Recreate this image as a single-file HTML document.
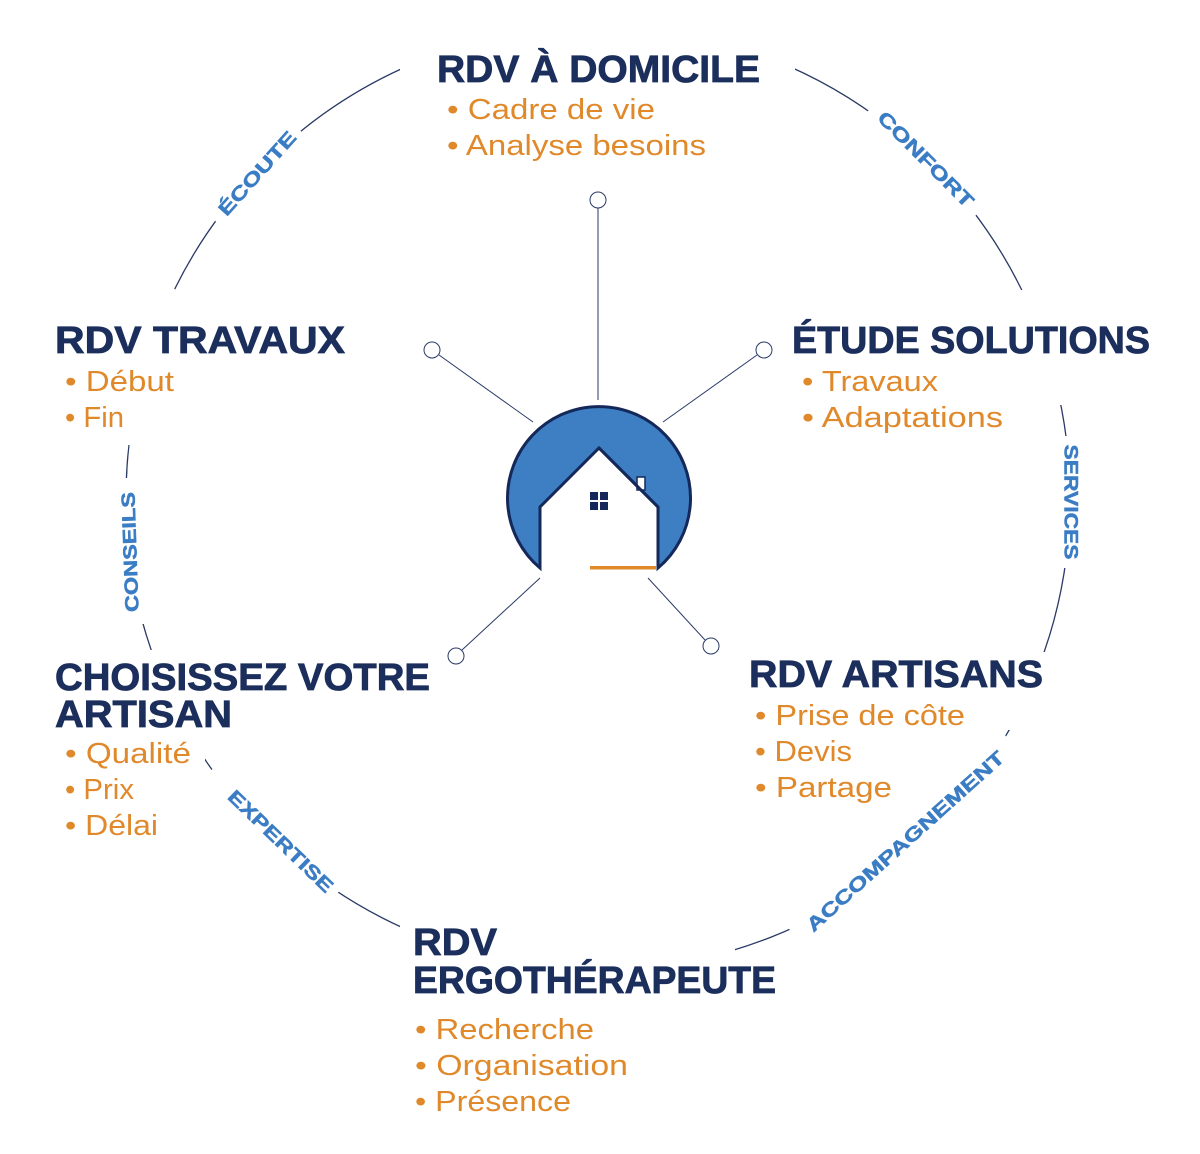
<!DOCTYPE html>
<html><head><meta charset="utf-8"><style>
html,body{margin:0;padding:0;background:#fff;}
svg{display:block}
.t{font-family:"Liberation Sans",sans-serif;font-weight:bold;fill:#1b2e5c;font-size:38px;stroke:#1b2e5c;stroke-width:0.8px}
.b{font-family:"Liberation Sans",sans-serif;fill:#e0892a;font-size:29px}
.l{font-family:"Liberation Sans",sans-serif;font-weight:bold;fill:#3b7dc4;font-size:19px;stroke:#3b7dc4;stroke-width:0.5px}
</style></head><body>
<svg width="1200" height="1154" viewBox="0 0 1200 1154" xmlns="http://www.w3.org/2000/svg">
<circle cx="598" cy="498" r="472" fill="none" stroke="#2a3a66" stroke-width="1.3"/>
<g fill="#fff">
<rect x="400" y="20" width="395" height="80"/>
<rect x="990" y="290" width="100" height="115"/>
<rect x="990" y="652" width="100" height="78"/>
<rect x="400" y="915" width="335" height="90"/>
<rect x="95" y="650" width="110" height="112"/>
<rect x="95" y="289" width="80" height="156"/>
<rect x="-62" y="-22" width="124" height="44" transform="translate(258,176) rotate(-48)"/>
<rect x="-75" y="-22" width="150" height="44" transform="translate(925,160) rotate(45)"/>
<rect x="-66" y="-25" width="132" height="50" transform="translate(1070,502) rotate(90)"/>
<rect x="-145" y="-24" width="290" height="48" transform="translate(906,842) rotate(-42)"/>
<rect x="-88" y="-24" width="176" height="48" transform="translate(273,833) rotate(45)"/>
<rect x="-73" y="-24" width="146" height="48" transform="translate(133,551) rotate(-90)"/>
</g>
<g stroke="#2a3a66" stroke-width="1" fill="#fff">
<line x1="598" y1="208" x2="598" y2="400"/>
<line x1="439" y1="355" x2="533" y2="422"/>
<line x1="757" y1="355" x2="663" y2="422"/>
<line x1="462" y1="650" x2="540" y2="578"/>
<line x1="705" y1="640" x2="648" y2="578"/>
<circle cx="598" cy="200" r="8"/>
<circle cx="432" cy="350" r="8"/>
<circle cx="764" cy="350" r="8"/>
<circle cx="456" cy="656" r="8"/>
<circle cx="711" cy="646" r="8"/>
</g>
<path d="M540,568 A91.5,91.5 0 1 1 658,568 L658,507 L599,448 L540,507 Z" fill="#3d7fc2" stroke="#14285a" stroke-width="3" stroke-linejoin="miter"/>
<rect x="637" y="477" width="8" height="13" fill="#fff" stroke="#14285a" stroke-width="1.5"/>
<path d="M599,448 L658,507" stroke="#14285a" stroke-width="3" fill="none"/>
<g fill="#14285a"><rect x="590" y="492" width="8" height="8"/><rect x="600" y="492" width="8" height="8"/><rect x="590" y="502" width="8" height="8"/><rect x="600" y="502" width="8" height="8"/></g>
<rect x="590" y="566" width="66" height="3.5" fill="#e0892a"/>

<text class="t" x="437" y="82" textLength="323" lengthAdjust="spacingAndGlyphs">RDV À DOMICILE</text>
<text class="b" x="447" y="119" textLength="208" lengthAdjust="spacingAndGlyphs">• Cadre de vie</text>
<text class="b" x="447" y="155" textLength="259" lengthAdjust="spacingAndGlyphs">• Analyse besoins</text>

<text class="t" x="792" y="353" textLength="358" lengthAdjust="spacingAndGlyphs">ÉTUDE SOLUTIONS</text>
<text class="b" x="802" y="391" textLength="136" lengthAdjust="spacingAndGlyphs">• Travaux</text>
<text class="b" x="802" y="427" textLength="201" lengthAdjust="spacingAndGlyphs">• Adaptations</text>

<text class="t" x="55" y="353" textLength="290" lengthAdjust="spacingAndGlyphs">RDV TRAVAUX</text>
<text class="b" x="65" y="391" textLength="109" lengthAdjust="spacingAndGlyphs">• Début</text>
<text class="b" x="65" y="427" textLength="59" lengthAdjust="spacingAndGlyphs">• Fin</text>

<text class="t" x="55" y="690" textLength="375" lengthAdjust="spacingAndGlyphs">CHOISISSEZ VOTRE</text>
<text class="t" x="55" y="727" textLength="177" lengthAdjust="spacingAndGlyphs">ARTISAN</text>
<text class="b" x="65" y="763" textLength="126" lengthAdjust="spacingAndGlyphs">• Qualité</text>
<text class="b" x="65" y="799" textLength="69" lengthAdjust="spacingAndGlyphs">• Prix</text>
<text class="b" x="65" y="835" textLength="93" lengthAdjust="spacingAndGlyphs">• Délai</text>

<text class="t" x="749" y="687" textLength="294" lengthAdjust="spacingAndGlyphs">RDV ARTISANS</text>
<text class="b" x="755" y="725" textLength="210" lengthAdjust="spacingAndGlyphs">• Prise de côte</text>
<text class="b" x="755" y="761" textLength="97" lengthAdjust="spacingAndGlyphs">• Devis</text>
<text class="b" x="755" y="797" textLength="137" lengthAdjust="spacingAndGlyphs">• Partage</text>

<text class="t" x="413" y="955" textLength="84" lengthAdjust="spacingAndGlyphs">RDV</text>
<text class="t" x="413" y="993" textLength="363" lengthAdjust="spacingAndGlyphs">ERGOTHÉRAPEUTE</text>
<text class="b" x="415" y="1039" textLength="179" lengthAdjust="spacingAndGlyphs">• Recherche</text>
<text class="b" x="415" y="1075" textLength="213" lengthAdjust="spacingAndGlyphs">• Organisation</text>
<text class="b" x="415" y="1111" textLength="156" lengthAdjust="spacingAndGlyphs">• Présence</text>

<g text-anchor="middle" dominant-baseline="central">
<text class="l" transform="translate(258,174) rotate(-48)" textLength="106" lengthAdjust="spacingAndGlyphs">ÉCOUTE</text>
<text class="l" transform="translate(925,160) rotate(45)" textLength="127" lengthAdjust="spacingAndGlyphs">CONFORT</text>
<text class="l" transform="translate(1070,502) rotate(90)" textLength="115" lengthAdjust="spacingAndGlyphs">SERVICES</text>
<text class="l" transform="translate(906,842) rotate(-42)" textLength="259" lengthAdjust="spacingAndGlyphs">ACCOMPAGNEMENT</text>
<text class="l" transform="translate(280,842) rotate(44)" textLength="138" lengthAdjust="spacingAndGlyphs">EXPERTISE</text>
<text class="l" transform="translate(131,552) rotate(-92)" textLength="120" lengthAdjust="spacingAndGlyphs">CONSEILS</text>
</g>
</svg>
</body></html>
